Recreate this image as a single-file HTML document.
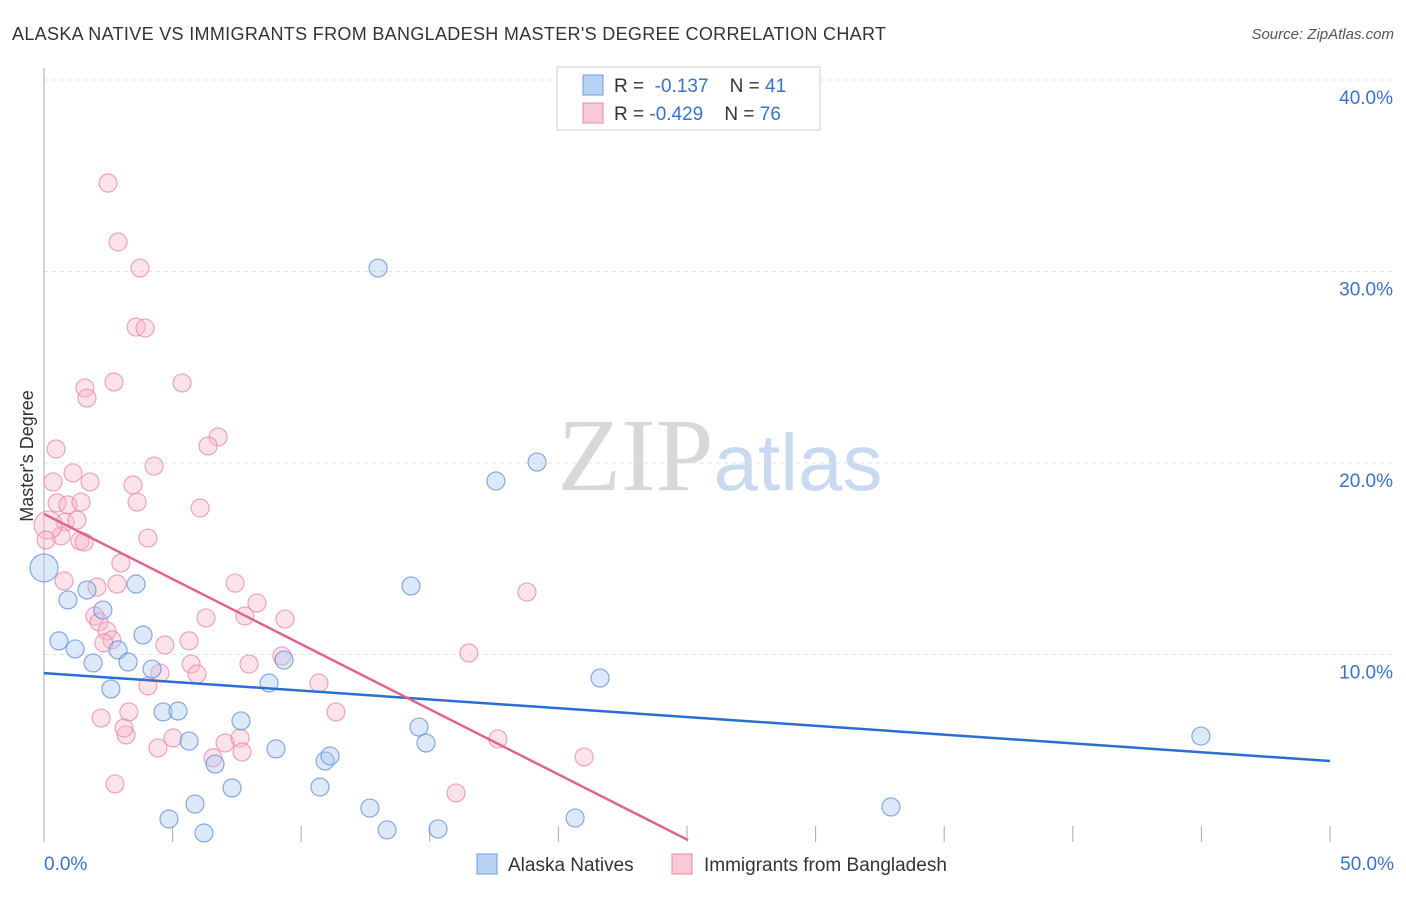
<!DOCTYPE html>
<html><head><meta charset="utf-8"><style>
body{margin:0;background:#fff;font-family:"Liberation Sans",sans-serif}
svg text{font-family:"Liberation Sans",sans-serif}
</style></head><body>
<svg id="chart" width="1406" height="892" xmlns="http://www.w3.org/2000/svg">
<text x="12" y="40" font-size="18" fill="#333" textLength="874" lengthAdjust="spacing">ALASKA NATIVE VS IMMIGRANTS FROM BANGLADESH MASTER'S DEGREE CORRELATION CHART</text>
<text x="1394" y="39" font-size="15" fill="#555" text-anchor="end" font-style="italic">Source: ZipAtlas.com</text>
<text x="720" y="490" font-size="104" text-anchor="middle"><tspan fill="#d8d8d8" font-family="Liberation Serif">ZIP</tspan><tspan fill="#c9daf0" font-size="80">atlas</tspan></text>
<text transform="translate(33,456) rotate(-90)" font-size="18" fill="#333" text-anchor="middle">Master's Degree</text>
<g id="grid"></g><g id="axes"></g><g id="marks"></g>
<g>
<rect x="557" y="67" width="263" height="63" fill="#fff" stroke="#ccc"/>
<rect x="583" y="75" width="20" height="20" fill="#b9d3f5" stroke="#6d9be0"/>
<rect x="583" y="103" width="20" height="20" fill="#fac9d6" stroke="#e889a7"/>
<text x="614" y="92" font-size="19" fill="#333">R = <tspan fill="#3a72c8">&#160;-0.137</tspan>&#160;&#160;&#160; N = <tspan fill="#3a72c8">41</tspan></text>
<text x="614" y="120" font-size="19" fill="#333">R = <tspan fill="#3a72c8">-0.429</tspan>&#160;&#160;&#160; N = <tspan fill="#3a72c8">76</tspan></text>
</g>
<g>
<rect x="477" y="854" width="20" height="20" fill="#b9d3f5" stroke="#6d9be0"/>
<text x="508" y="871" font-size="19" fill="#333">Alaska Natives</text>
<rect x="672" y="854" width="20" height="20" fill="#fac9d6" stroke="#e889a7"/>
<text x="704" y="871" font-size="19" fill="#333">Immigrants from Bangladesh</text>
</g>
</svg>
<script>
const yTicks=[10,20,30,40];
const yTickLabels=["10.0%","20.0%","30.0%","40.0%"];
const xLabels=["0.0%","50.0%"];
const blueX=[0,0.93,0.58,1.21,1.67,1.91,2.29,2.60,2.88,3.27,3.58,3.85,4.20,4.63,4.86,5.21,5.64,5.87,6.22,6.65,7.31,7.66,8.75,9.02,9.33,10.73,10.93,11.12,12.67,12.99,13.34,14.27,14.58,14.85,15.32,17.57,19.17,20.65,21.62,32.93,44.98];
const blueY=[14.52,12.85,10.71,10.29,13.37,9.56,12.32,8.20,10.24,9.61,13.68,11.02,9.24,7.00,1.41,7.05,5.48,2.19,0.68,4.28,3.03,6.53,8.51,5.07,9.71,3.08,4.44,4.70,1.98,30.18,0.84,13.58,6.21,5.38,0.89,19.06,20.05,1.46,8.77,2.04,5.74];
const pinkX=[2.49,2.88,3.73,3.58,3.93,1.59,1.67,2.72,5.37,0.47,6.77,6.38,1.13,1.79,4.28,0.35,3.46,3.62,6.07,0.51,0.93,1.44,0.82,1.28,0.66,0.16,0.08,1.40,1.56,4.04,2.99,0.78,2.06,2.84,7.43,8.28,9.37,7.81,6.30,1.98,2.14,2.45,2.64,2.33,4.70,5.64,9.25,7.97,5.72,5.95,4.51,4.04,10.69,16.52,18.78,2.22,3.30,11.35,3.19,3.11,4.43,5.02,7.04,7.62,7.70,6.57,17.65,21.00,16.02,2.76];
const pinkY=[34.62,31.54,30.18,27.10,27.05,23.92,23.39,24.23,24.18,20.73,21.36,20.89,19.48,19.01,19.84,19.01,18.85,17.96,17.65,17.91,17.81,17.96,16.92,17.02,16.19,16.76,15.98,15.93,15.87,16.08,14.78,13.84,13.52,13.68,13.73,12.69,11.85,12.01,11.91,12.01,11.70,11.23,10.76,10.60,10.50,10.71,9.92,9.50,9.50,8.98,9.03,8.36,8.51,10.08,13.26,6.68,7.00,7.00,5.80,6.16,5.12,5.64,5.38,5.64,4.91,4.60,5.59,4.65,2.77,3.24];
const blueBig=[0]; const pinkBig=[25];
const blueTrend=[9.03,4.44];
const pinkTrend=[17.34,0.31,25.04];
const X=v=>44+v/50*1286, Y=v=>846-v*19.15;
const NS="http://www.w3.org/2000/svg";
function mk(tag,attrs,parent){const e=document.createElementNS(NS,tag);for(const k in attrs)e.setAttribute(k,attrs[k]);document.getElementById(parent).appendChild(e);return e;}
yTicks.forEach((t,i)=>{
 const g=mk('line',{x1:44,x2:1394,y1:Y(t),y2:Y(t),stroke:'#e2e2e2','stroke-dasharray':'4,4'},'grid');
 
 
 const l=mk('text',{x:1393,y:Y(t)+24,'font-size':19,fill:'#3a72c8','text-anchor':'end'},'grid');
 l.textContent=yTickLabels[i];
 
 
});
const ax=mk('line',{x1:44,x2:44,y1:68,y2:842,stroke:'#aaa'},'axes');


for(let i=0;i<=10;i++){const t=mk('line',{x1:X(i*5),x2:X(i*5),y1:826,y2:842,stroke:'#aaa'},'axes');
 
 }
[[0,'start',44],[50,'end',1394]].forEach((d,i)=>{const t=mk('text',{x:d[2],y:870,'font-size':19,fill:'#3a72c8','text-anchor':d[1]},'axes');t.textContent=xLabels[i];
 
 });
function pts(xs,ys,big,fill,stroke,name){xs.forEach((x,i)=>{const c=mk('circle',{cx:X(x),cy:Y(ys[i]),r:big.includes(i)?14:9,fill:fill,'fill-opacity':0.4,stroke:stroke,'stroke-opacity':0.75,'stroke-width':1.2},'marks');
 
 });}
pts(pinkX,pinkY,pinkBig,'#f7b6c9','#e889a7','bangladesh-point');
pts(blueX,blueY,blueBig,'#a9c8f0','#5f8fd8','alaska-native-point');
const bl=mk('line',{x1:X(0),y1:Y(blueTrend[0]),x2:X(50),y2:Y(blueTrend[1]),stroke:'#2a6fd0','stroke-width':2.5},'marks');


const pl=mk('line',{x1:X(0),y1:Y(pinkTrend[0]),x2:X(pinkTrend[2]),y2:Y(pinkTrend[1]),stroke:'#e0628e','stroke-width':2.5},'marks');


</script>
</body></html>
